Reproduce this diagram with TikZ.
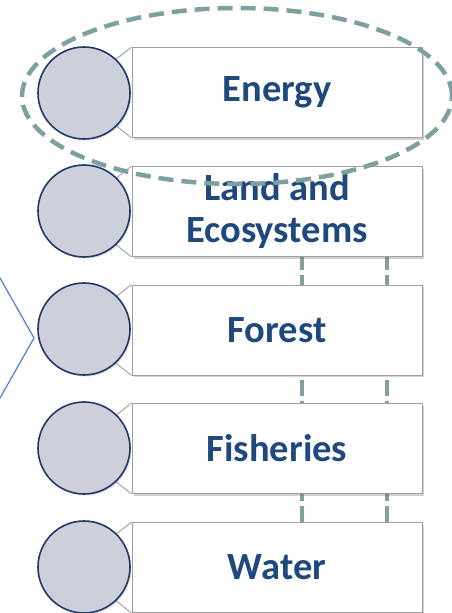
\documentclass[tikz,border=0pt]{standalone}
\usepackage{xcolor}
\usepackage{fontspec}
\setmainfont{Carlito}
\usetikzlibrary{shadows,backgrounds}

\definecolor{textblue}{RGB}{31,73,125}
\definecolor{ringblue}{RGB}{31,58,104}
\definecolor{discgray}{RGB}{205,208,219}
\definecolor{framegray}{RGB}{160,160,160}
\definecolor{teal}{RGB}{127,160,160}
\definecolor{chevblue}{RGB}{79,129,189}

\tikzset{
  topic/.style={draw=framegray, line width=0.9pt, fill=white, minimum width=290pt, minimum height=90pt,
    inner sep=0pt, align=center, text=textblue, font=\bfseries\fontsize{38.5}{42}\selectfont,
    drop shadow={shadow xshift=2pt, shadow yshift=-2pt, opacity=0.3, fill=black!60}},
  wing/.style={draw=framegray, line width=0.9pt},
  disc/.style={circle, draw=ringblue, line width=1.6pt, fill=discgray, minimum size=92pt, inner sep=0pt,
    drop shadow={shadow xshift=1.5pt, shadow yshift=-1.5pt, opacity=0.2, fill=black!60}},
  link/.style={teal, line width=3.8pt, dash pattern=on 16pt off 5pt},
  focus/.style={teal, line width=4.5pt, dash pattern=on 15pt off 8pt},
  chevron/.style={chevblue, line width=1.2pt}
}

\begin{document}
\begin{tikzpicture}[x=1pt,y=-1pt]
                \useasboundingbox (0,0) rectangle (452,613);
                \clip (0,0) rectangle (452,613);

                % boxes
                \node[topic] (energy)    at (277,92.5)  {Energy};
                \node[topic] (land)      at (277,211.5) {Land and\\Ecosystems};
                \node[topic] (forest)    at (277,330)   {Forest};
                \node[topic] (fisheries) at (277,448.5) {Fisheries};
                \node[topic] (water)     at (277,567.5) {Water};

                % links, behind the boxes
                \begin{scope}[on background layer]
                \draw[link] ([xshift=25pt]land.center)  -- ([xshift=25pt]water.center);
                \draw[link] ([xshift=110pt]land.center) -- ([xshift=110pt]water.center);
                \end{scope}

                \draw[wing] (energy.north west)    -- ++(-28,22) (energy.south west)    -- ++(-28,-22);
                \draw[wing] (land.north west)      -- ++(-28,22) (land.south west)      -- ++(-28,-22);
                \draw[wing] (forest.north west)    -- ++(-28,22) (forest.south west)    -- ++(-28,-22);
                \draw[wing] (fisheries.north west) -- ++(-28,22) (fisheries.south west) -- ++(-28,-22);
                \draw[wing] (water.north west)     -- ++(-28,22) (water.south west)     -- ++(-28,-22);

                % discs
                \node[disc] (energyc)    at (84,93)  {};
                \node[disc] (landc)      at (84,211) {};
                \node[disc] (forestc)    at (84,329) {};
                \node[disc] (fisheriesc) at (84,448) {};
                \node[disc] (waterc)     at (84,567) {};

                % highlight and bracket
                \draw[focus] (237,96) ellipse (215pt and 88pt);
                \draw[chevron] (0,278) -- (34,338) -- (0,398);
            \end{tikzpicture}
\end{document}
